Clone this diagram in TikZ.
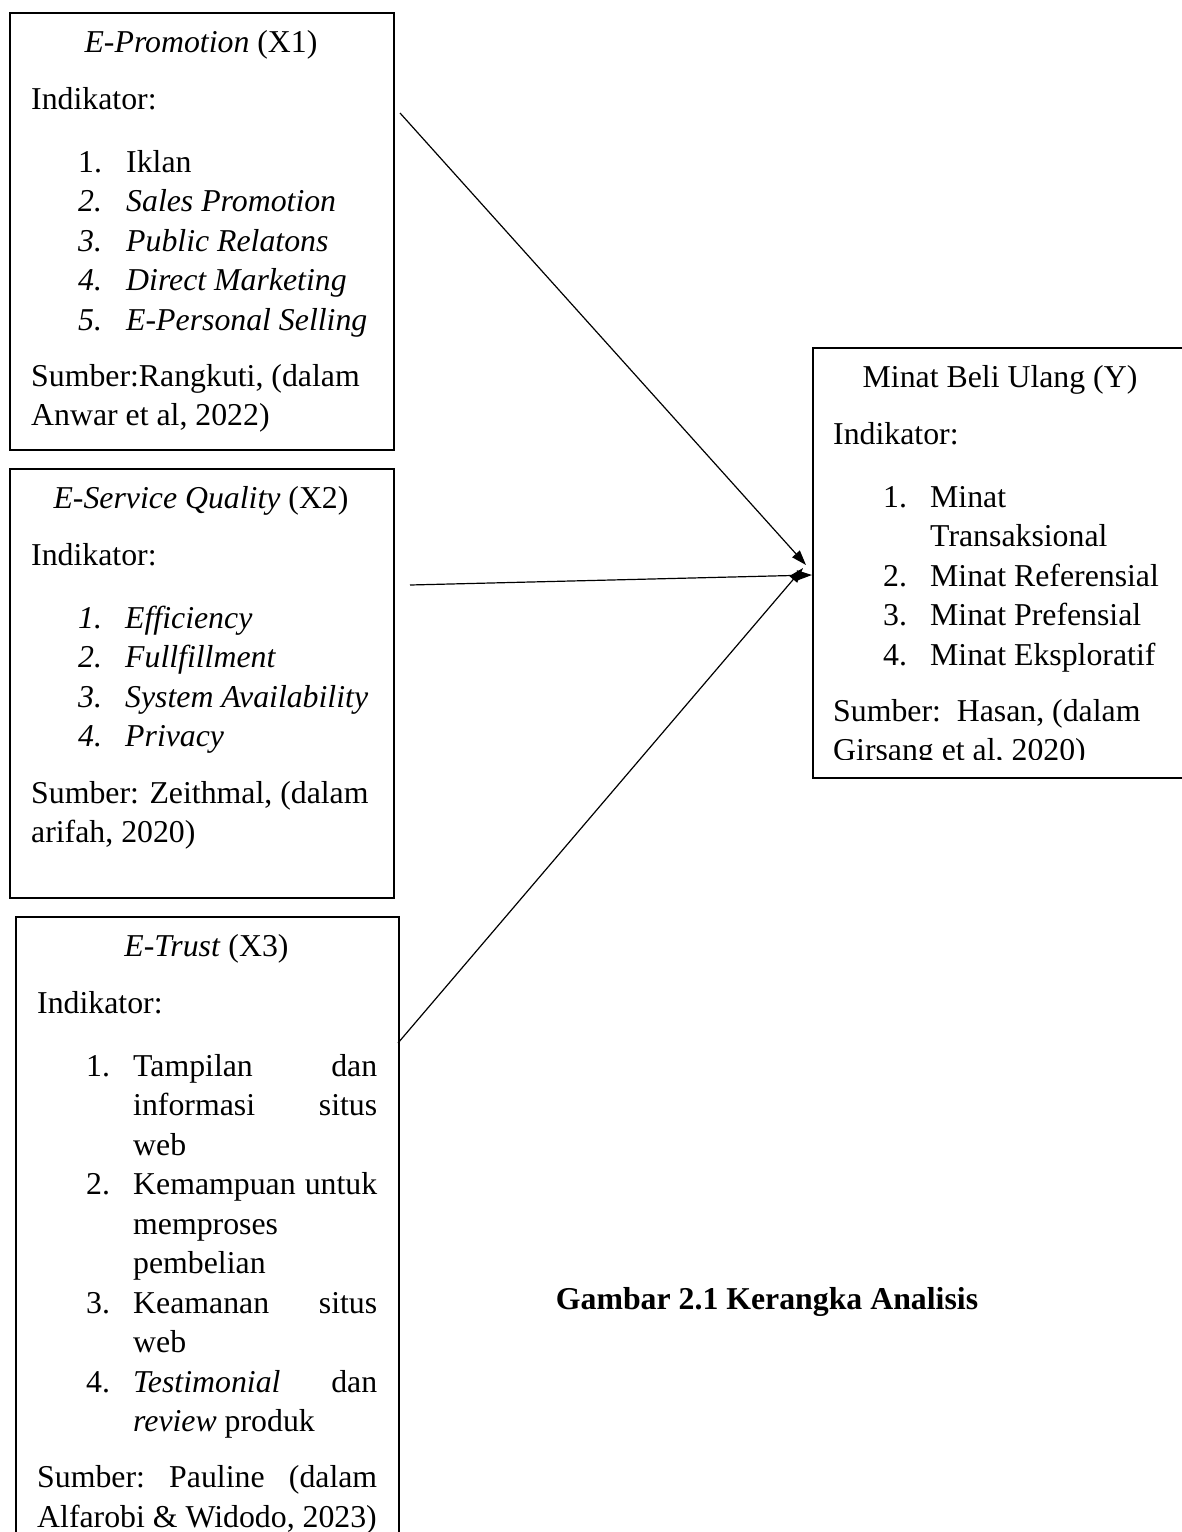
\documentclass[tikz,border=0pt]{standalone}
\usepackage{fontspec}
\setmainfont{Liberation Serif}
\usetikzlibrary{arrows.meta}
\newcommand\fsz{\fontsize{31.8pt}{38pt}\selectfont}
\tikzset{
  boxnode/.style={draw, line width=2.4pt, inner sep=0pt, anchor=north west},
  txt/.style={anchor=base west, inner sep=0pt, font=\fsz},
  ttl/.style={anchor=base, inner sep=0pt, font=\fsz},
  conn/.style={line width=1.2pt, -{Triangle[length=15pt,width=10pt]}},
}
\begin{document}
\begin{tikzpicture}[x=1pt,y=-1pt]
\useasboundingbox (0,0) rectangle (1182,1532);
\clip (0,0) rectangle (1182,1532);
\fill[white] (0,0) rectangle (1182,1532);

% ---------- Box 1 ----------
\node[boxnode, minimum width=384pt, minimum height=437pt] (b1) at (9,12) {};
\node[ttl] (b1t) at (201,52) {\textit{E-Promotion} (X1)};
\node[txt] (b1i) at (31,109) {Indikator:};
\node[txt] (b1n1) at (78,172) {1.};   \node[txt] (b1l1) at (126,172) {Iklan};
\node[txt] (b1n2) at (78,211.5) {\textit{2.}}; \node[txt] (b1l2) at (126,211.5) {\textit{Sales Promotion}};
\node[txt] (b1n3) at (78,251) {\textit{3.}}; \node[txt] (b1l3) at (126,251) {\textit{Public Relatons}};
\node[txt] (b1n4) at (78,290.5) {\textit{4.}}; \node[txt] (b1l4) at (126,290.5) {\textit{Direct Marketing}};
\node[txt] (b1n5) at (78,330) {\textit{5.}}; \node[txt] (b1l5) at (126,330) {\textit{E-Personal Selling}};
\node[txt] (b1s1) at (31,386) {Sumber:Rangkuti, (dalam};
\node[txt] (b1s2) at (31,425.5) {Anwar et al, 2022)};

% ---------- Box 2 ----------
\node[boxnode, minimum width=384pt, minimum height=429pt] (b2) at (9,468) {};
\node[ttl] (b2t) at (201,508) {\textit{E-Service Quality} (X2)};
\node[txt] (b2i) at (31,565) {Indikator:};
\node[txt] (b2n1) at (78,628) {\textit{1.}}; \node[txt] (b2l1) at (125,628) {\textit{Efficiency}};
\node[txt] (b2n2) at (78,667.5) {\textit{2.}}; \node[txt] (b2l2) at (125,667.5) {\textit{Fullfillment}};
\node[txt] (b2n3) at (78,707) {\textit{3.}}; \node[txt] (b2l3) at (125,707) {\textit{System Availability}};
\node[txt] (b2n4) at (78,746.5) {\textit{4.}}; \node[txt] (b2l4) at (125,746.5) {\textit{Privacy}};
\node[txt] (b2s1) at (31,803) {Sumber: Zeithmal, (dalam};
\node[txt] (b2s2) at (31,842.5) {arifah, 2020)};

% ---------- Box 3 ----------
\node[boxnode, minimum width=383pt, minimum height=660pt] (b3) at (15,916) {};
\node[ttl] (b3t) at (206.5,956) {\textit{E-Trust} (X3)};
\node[txt] (b3i) at (37,1013) {Indikator:};
\node[txt] (b3n1) at (86,1076) {1.};
\node[txt] (b3l1a) at (133,1076) {\hbox to 244pt{Tampilan\hfill dan}};
\node[txt] (b3l1b) at (133,1115.5) {\hbox to 244pt{informasi\hfill situs}};
\node[txt] (b3l1c) at (133,1155) {web};
\node[txt] (b3n2) at (86,1194.5) {2.};
\node[txt] (b3l2a) at (133,1194.5) {\hbox to 244pt{Kemampuan\hfill untuk}};
\node[txt] (b3l2b) at (133,1234) {memproses};
\node[txt] (b3l2c) at (133,1273.5) {pembelian};
\node[txt] (b3n3) at (86,1313) {3.};
\node[txt] (b3l3a) at (133,1313) {\hbox to 244pt{Keamanan\hfill situs}};
\node[txt] (b3l3b) at (133,1352.5) {web};
\node[txt] (b3n4) at (86,1392) {4.};
\node[txt] (b3l4a) at (133,1392) {\hbox to 244pt{\textit{Testimonial}\hfill dan}};
\node[txt] (b3l4b) at (133,1431.5) {\textit{review} produk};
\node[txt] (b3s1) at (37,1487.5) {\hbox to 340pt{Sumber:\hfill Pauline\hfill (dalam}};
\node[txt] (b3s2) at (37,1527) {Alfarobi \& Widodo, 2023)};

% ---------- Box Y ----------
\node[boxnode, minimum width=400pt, minimum height=430pt] (by) at (812,347) {};
\node[ttl] (byt) at (1000,387) {Minat Beli Ulang (Y)};
\node[txt] (byi) at (833,444) {Indikator:};
\node[txt] (byn1) at (883,507) {1.}; \node[txt] (byl1a) at (930,507) {Minat};
\node[txt] (byl1b) at (930,546.5) {Transaksional};
\node[txt] (byn2) at (883,586) {2.}; \node[txt] (byl2) at (930,586) {Minat Referensial};
\node[txt] (byn3) at (883,625.5) {3.}; \node[txt] (byl3) at (930,625.5) {Minat Prefensial};
\node[txt] (byn4) at (883,665) {4.}; \node[txt] (byl4) at (930,665) {Minat Eksploratif};
\node[txt] (bys1) at (833,721) {Sumber:\ \ Hasan, (dalam};
\begin{scope}
  \clip (814,735) rectangle (1182,759);
  \node[txt] (bys2) at (833,760.5) {Girsang et al, 2020)};
\end{scope}

% ---------- Caption ----------
\node[ttl, font=\fsz\bfseries] (cap) at (767,1309) {Gambar 2.1 Kerangka Analisis};

% ---------- Connectors ----------
\coordinate (a1s) at (400,113);
\coordinate (a1e) at (806,565);
\coordinate (a2s) at (410,585);
\coordinate (a2e) at (812,575);
\coordinate (a3s) at (398,1043);
\coordinate (a3e) at (803,568);
\draw[conn] (a1s) -- (a1e);
\draw[conn] (a2s) -- (a2e);
\draw[conn] (a3s) -- (a3e);
\end{tikzpicture}
\end{document}
